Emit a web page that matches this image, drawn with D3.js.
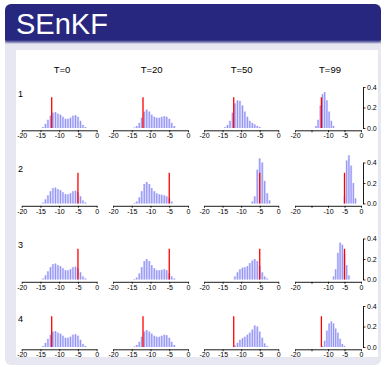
<!DOCTYPE html>
<html>
<head>
<meta charset="utf-8">
<script src="https://cdn.jsdelivr.net/npm/d3@7"></script>
<style>
  html, body { margin: 0; padding: 0; background: #ffffff; }
  svg { display: block; }
  text { font-family: "Liberation Sans", Arial, sans-serif; }
</style>
</head>
<body>
<svg id="chart" width="385" height="367"></svg>
<script>
// ---- data -------------------------------------------------------------
const title = "SEnKF";
const times = ["T=0", "T=20", "T=50", "T=99"];
const members = ["1", "2", "3", "4"];
const truth = [-12, -5, -5, -12];          // true parameter value per row
const truthHeight = 0.3;                   // drawn height of the truth marker
const xTicks = [-20, -15, -10, -5, 0];
const yTicks = [0.0, 0.2, 0.4];
const binWidth = 2 / 3;                    // 30 bins over [-20, 0]

// histogram densities, bin k covers [-20 + k*2/3, -20 + (k+1)*2/3)
const prior = [0,0,0,0,0,0,0,0, 0.01,0.04,0.08,0.12,0.15,0.155,0.14,0.13,0.11,0.09,0.09,0.10,0.12,0.125,0.11,0.07,0.03,0.01, 0,0,0,0];
const r1t20 = [0,0,0,0,0,0,0,0, 0.005,0.02,0.05,0.10,0.16,0.18,0.16,0.13,0.11,0.10,0.10,0.11,0.115,0.11,0.09,0.05,0.02, 0,0,0,0,0];
const r1t50 = [0,0,0,0,0,0,0,0, 0.01,0.03,0.07,0.15,0.24,0.27,0.265,0.22,0.16,0.11,0.07,0.05,0.035,0.02,0.01, 0,0,0,0,0,0,0];
const r1t99 = [0,0,0,0,0,0,0,0,0, 0.02,0.08,0.22,0.33,0.35,0.27,0.16,0.07,0.02, 0,0,0,0,0,0,0,0,0,0,0,0];
const r2t20 = [0,0,0,0,0,0,0,0, 0.005,0.02,0.06,0.12,0.19,0.21,0.19,0.15,0.12,0.10,0.09,0.085,0.08,0.07,0.05,0.02, 0,0,0,0,0,0];
const r2t50 = [0,0,0,0,0,0,0,0,0,0,0,0,0,0,0,0,0,0,0, 0.02,0.07,0.33,0.44,0.40,0.22,0.10,0.03, 0,0,0];
const r2t99 = [0,0,0,0,0,0,0,0,0,0,0,0,0,0,0,0,0,0,0,0,0,0, 0.07,0.42,0.47,0.37,0.20,0.05, 0,0];
const r3t20 = [0,0,0,0,0,0,0,0, 0.005,0.02,0.06,0.12,0.18,0.20,0.18,0.14,0.11,0.09,0.09,0.095,0.10,0.09,0.06,0.03,0.01, 0,0,0,0,0];
const r3t50 = [0,0,0,0,0,0,0,0,0,0,0,0, 0.03,0.07,0.10,0.115,0.12,0.13,0.16,0.185,0.20,0.18,0.13,0.07,0.03,0.01, 0,0,0,0];
const r3t99 = [0,0,0,0,0,0,0,0,0,0,0,0,0,0,0,0,0, 0.03,0.10,0.26,0.36,0.34,0.25,0.14,0.04, 0,0,0,0,0];
const r4t20 = [0,0,0,0,0,0,0,0, 0.005,0.02,0.05,0.10,0.15,0.165,0.15,0.13,0.11,0.10,0.10,0.11,0.12,0.115,0.09,0.05,0.02, 0,0,0,0,0];
const r4t50 = [0,0,0,0,0,0,0,0,0,0,0,0, 0.015,0.04,0.07,0.085,0.10,0.12,0.14,0.17,0.21,0.20,0.15,0.09,0.035,0.01, 0,0,0,0];
const r4t99 = [0,0,0,0,0,0,0,0,0,0,0,0, 0.01,0.06,0.16,0.23,0.25,0.23,0.18,0.14,0.08,0.03,0.01, 0,0,0,0,0,0,0];

const grid = [
  [prior, r1t20, r1t50, r1t99],
  [prior, r2t20, r2t50, r2t99],
  [prior, r3t20, r3t50, r3t99],
  [prior, r4t20, r4t50, r4t99]
];

// ---- layout -----------------------------------------------------------
const colLeft  = [21.7, 113, 204, 295];
const colRight = [96.7, 188, 278.3, 361];
const titleX   = [62, 151.7, 241.7, 330];
const rowBase  = [128, 203.5, 279.5, 347];
const rowLabelY = [96.7, 172, 248, 322];
const plotH = 41;
const yAxisX = 363;

const svg = d3.select("#chart");

// slide frame: title bar, block background, white figure area
const defs = svg.append("defs");
const shade = defs.append("linearGradient").attr("id", "shade")
  .attr("x1", 0).attr("y1", 0).attr("x2", 0).attr("y2", 1);
shade.append("stop").attr("offset", 0).attr("stop-color", "#272780").attr("stop-opacity", 0.75);
shade.append("stop").attr("offset", 1).attr("stop-color", "#e7e7f1").attr("stop-opacity", 1);

svg.append("rect").attr("x", 5).attr("y", 30).attr("width", 376).attr("height", 335)
  .attr("rx", 6).attr("fill", "#e7e7f1");
svg.append("rect").attr("x", 5).attr("y", 4).attr("width", 376).attr("height", 40)
  .attr("rx", 6).attr("fill", "#272780");
svg.append("rect").attr("x", 5).attr("y", 38).attr("width", 376).attr("height", 2)
  .attr("fill", "#272780");
svg.append("rect").attr("x", 5).attr("y", 40).attr("width", 376).attr("height", 4)
  .attr("fill", "url(#shade)");
svg.append("rect").attr("x", 5).attr("y", 44).attr("width", 376).attr("height", 6)
  .attr("fill", "#e7e7f1");
svg.append("rect").attr("x", 16).attr("y", 50).attr("width", 362).attr("height", 307)
  .attr("fill", "#ffffff");

svg.append("text").attr("x", 16).attr("y", 34)
  .attr("fill", "#ffffff").attr("font-size", 29).text(title);

// column titles
svg.selectAll("text.coltitle").data(times).enter().append("text")
  .attr("class", "coltitle")
  .attr("x", (d, i) => titleX[i]).attr("y", 72.7)
  .attr("text-anchor", "middle").attr("font-size", 9.5).attr("fill", "#000")
  .text(d => d);

// row labels
svg.selectAll("text.rowlabel").data(members).enter().append("text")
  .attr("class", "rowlabel")
  .attr("x", 20.5).attr("y", (d, i) => rowLabelY[i])
  .attr("text-anchor", "middle").attr("font-size", 9).attr("fill", "#000")
  .text(d => d);

const bins = d3.range(30).map(k => -20 + k * binWidth);

grid.forEach((row, r) => {
  const y = d3.scaleLinear().domain([0, 0.4]).range([rowBase[r], rowBase[r] - plotH]);

  row.forEach((dens, c) => {
    const x = d3.scaleLinear().domain([-20, 0]).range([colLeft[c], colRight[c]]);
    const g = svg.append("g");
    const data = dens.map((h, k) => ({ lo: bins[k], h })).filter(d => d.h > 0);

    // light bar body
    g.selectAll("rect.body").data(data).enter().append("rect")
      .attr("class", "body")
      .attr("x", d => x(d.lo))
      .attr("width", d => x(d.lo + binWidth) - x(d.lo))
      .attr("y", d => y(d.h))
      .attr("height", d => y(0) - y(d.h))
      .attr("fill", "#d0d0fc");
    // darker bar edge
    g.selectAll("rect.edge").data(data).enter().append("rect")
      .attr("class", "edge")
      .attr("x", d => x(d.lo + binWidth / 2) - 0.4)
      .attr("width", 0.8)
      .attr("y", d => y(d.h))
      .attr("height", d => y(0) - y(d.h))
      .attr("fill", "#8585f3");

    // truth marker
    g.append("line")
      .attr("x1", x(truth[r])).attr("x2", x(truth[r]))
      .attr("y1", y(0)).attr("y2", y(truthHeight))
      .attr("stroke", "#ff0000").attr("stroke-width", 1.3);

    // x axis
    const ax = d3.axisBottom(x).tickValues(xTicks).tickSize(2).tickSizeOuter(0)
      .tickPadding(1)
      .tickFormat(v => (c === 3 && v === -15) ? "" : String(v));
    const axg = g.append("g").attr("transform", `translate(0,${rowBase[r] + 2.3})`).call(ax);
    axg.select(".domain").attr("stroke", "#000").attr("stroke-width", 0.9);
    axg.selectAll(".tick line").attr("stroke", "#000").attr("stroke-width", 0.8);
    axg.selectAll(".tick text").attr("font-size", 7).attr("fill", "#000")
      .attr("font-family", "Liberation Sans, Arial, sans-serif");
  });

  // density axis on the right
  const ay = d3.axisRight(y).tickValues(yTicks).tickSize(2.5).tickSizeOuter(0)
    .tickPadding(1.5).tickFormat(d3.format(".1f"));
  const ayg = svg.append("g").attr("transform", `translate(${yAxisX},0)`).call(ay);
  ayg.select(".domain").attr("stroke", "#000").attr("stroke-width", 0.9);
  ayg.selectAll(".tick line").attr("stroke", "#000").attr("stroke-width", 0.8);
  ayg.selectAll(".tick text").attr("font-size", 7).attr("fill", "#000")
    .attr("font-family", "Liberation Sans, Arial, sans-serif");
});
</script>
</body>
</html>
